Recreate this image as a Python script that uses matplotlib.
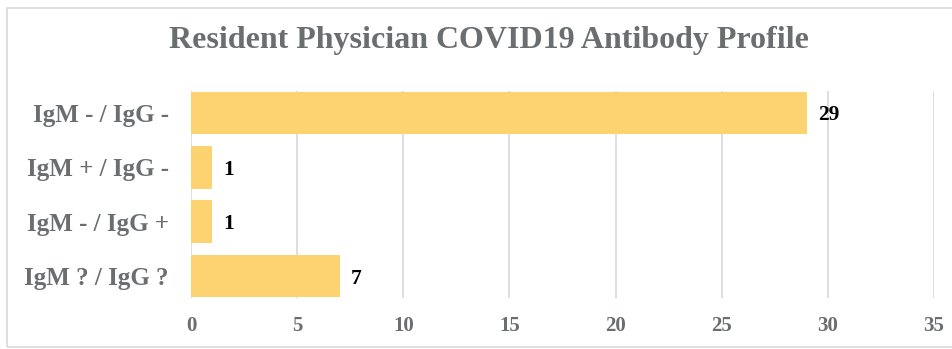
import matplotlib
matplotlib.use("Agg")
import matplotlib.pyplot as plt
from matplotlib.patches import Rectangle

categories = ["IgM - / IgG -", "IgM + / IgG -", "IgM - / IgG +", "IgM ? / IgG ?"]
values = [29, 1, 1, 7]
xticks = [0, 5, 10, 15, 20, 25, 30, 35]

W, H = 952, 349
fig = plt.figure(figsize=(W / 100, H / 100), dpi=100)
fig.patch.set_facecolor("white")

# chart border
fig.patches.append(Rectangle((7 / W, 2 / H), 1.0, 1 - 10 / H, transform=fig.transFigure,
                             fill=False, edgecolor="#d9d9d9", linewidth=1.2))

ax = fig.add_axes([191 / W, 1 - 298 / H, (934 - 191) / W, (298 - 91) / H])
serif = ["Liberation Serif", "DejaVu Serif"]
gray = "#6b6e70"

ypos = list(range(len(categories)))
ax.barh(ypos, values, height=0.78, color="#FCD370", zorder=3)
ax.set_ylim(len(categories) - 0.6, -0.4)
ax.set_xlim(0, 35)
ax.set_xticks(xticks)
ax.set_xticklabels([str(t) for t in xticks], fontfamily=serif, fontweight="bold",
                   fontsize=15, color=gray)
ax.set_yticks(ypos)
ax.set_yticklabels(categories, fontfamily=serif, fontweight="bold", fontsize=18, color=gray)
ax.tick_params(axis="both", length=0)
ax.tick_params(axis="x", pad=13)
ax.tick_params(axis="y", pad=16)
ax.grid(axis="x", color="#d9d9d9", linewidth=1.2, zorder=0)
for s in ax.spines.values():
    s.set_visible(False)

for y, v in zip(ypos, values):
    ax.annotate(str(v), (v, y), xytext=(8, 0), textcoords="offset points", ha="left",
                va="center_baseline", fontfamily=serif, fontweight="bold", fontsize=15.5,
                color="black")

fig.text(489 / W, 1 - 48 / H, "Resident Physician COVID19 Antibody Profile", ha="center",
         va="baseline", fontfamily=serif, fontweight="bold", fontsize=23, color=gray)

fig.savefig("out.png", dpi=100)
